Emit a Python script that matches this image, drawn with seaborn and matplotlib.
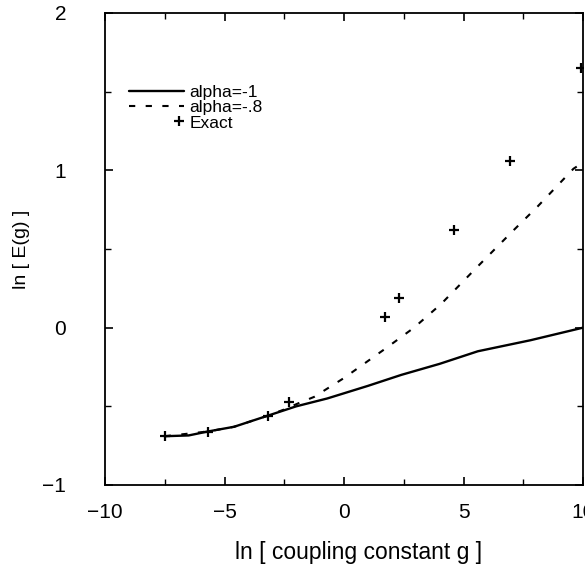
import matplotlib

matplotlib.use("Agg")
import matplotlib.pyplot as plt
import pandas as pd
import seaborn as sns
from matplotlib.legend_handler import HandlerLine2D
from matplotlib.lines import Line2D
from matplotlib.ticker import MultipleLocator

# values
solid_x = [-7.5, -6.5, -5.7, -4.6, -3.2, -2.0, -0.7, 1.0, 2.4, 4.0, 5.6, 7.8, 10.0]
solid_y = [-0.69, -0.685, -0.66, -0.63, -0.56, -0.50, -0.45, -0.37, -0.30, -0.23, -0.15, -0.08, 0.0]

dashed_x = [-7.5, -5.7, -4.6, -3.2, -2.5, -1.9, -1.25, 0.0, 1.76, 2.93, 4.06, 5.6, 7.1, 8.1, 9.1, 9.6, 10.0]
dashed_y = [-0.69, -0.66, -0.63, -0.56, -0.52, -0.48, -0.44, -0.32, -0.13, 0.0, 0.15, 0.39, 0.62, 0.77, 0.93, 1.01, 1.05]

exact_x = [-7.5, -5.7, -3.2, -2.3, 1.7, 2.3, 4.6, 6.95, 9.9]
exact_y = [-0.69, -0.66, -0.56, -0.47, 0.07, 0.19, 0.62, 1.06, 1.65]

labels = ["alpha=-1", "alpha=-.8", "Exact"]


class RightMarkerHandler(HandlerLine2D):
    """Put the single legend marker at the right end of the handle."""

    def create_artists(self, legend, orig_handle, xdescent, ydescent, width,
                       height, fontsize, trans):
        artists = super().create_artists(legend, orig_handle, xdescent, ydescent,
                                         width, height, fontsize, trans)
        x = -xdescent + width * 0.9
        for a in artists:
            a.set_xdata([x] * len(a.get_xdata()))
        return artists


sns.set_theme(style="ticks")
plt.rcParams["font.family"] = ["Liberation Sans", "DejaVu Sans"]
plt.rcParams["text.color"] = "black"
plt.rcParams["axes.labelcolor"] = "black"
plt.rcParams["xtick.color"] = "black"
plt.rcParams["ytick.color"] = "black"

fig = plt.figure(figsize=(5.85, 5.69), dpi=100)
ax = fig.add_axes([105 / 585, 1 - 485 / 569, 478 / 585, 472 / 569])

solid = pd.DataFrame({"x": solid_x, "y": solid_y})
dashed = pd.DataFrame({"x": dashed_x, "y": dashed_y})
exact = pd.DataFrame({"x": exact_x, "y": exact_y})

sns.lineplot(data=solid, x="x", y="y", color="black", linewidth=1.7, sort=False, ax=ax)
sns.lineplot(data=dashed, x="x", y="y", color="black", linewidth=1.5, sort=False,
             linestyle=(0, (3, 5)), ax=ax)
sns.scatterplot(data=exact, x="x", y="y", marker="+", s=55, color="black",
                linewidth=1.6, ax=ax)

ax.set_xlim(-10, 10)
ax.set_ylim(-1, 2)
ax.xaxis.set_major_locator(MultipleLocator(5))
ax.xaxis.set_minor_locator(MultipleLocator(2.5))
ax.yaxis.set_major_locator(MultipleLocator(1))
ax.yaxis.set_minor_locator(MultipleLocator(0.5))
ax.tick_params(which="both", direction="in", top=True, right=True, color="black")
ax.tick_params(which="major", length=6, width=1.2)
ax.tick_params(which="minor", length=4, width=1.0)
ax.tick_params(axis="x", which="major", pad=13, labelsize=15)
ax.tick_params(axis="y", which="major", pad=28, labelsize=15)
for s in ax.spines.values():
    s.set_linewidth(1.3)
    s.set_color("black")

ax.set_xlabel("ln [ coupling constant g ]", fontsize=16.5)
ax.xaxis.set_label_coords(0.531, -0.118)
ax.set_ylabel("ln [ E(g) ]", fontsize=14, labelpad=9)

handles = [
    Line2D([], [], color="black", linewidth=1.7),
    Line2D([], [], color="black", linewidth=1.5, linestyle=(0, (3, 5))),
    Line2D([], [], color="black", linestyle="none", marker="+", markersize=7,
           markeredgewidth=1.6),
]
ax.legend(handles, labels, loc="upper left", bbox_to_anchor=(0.035, 0.862),
          frameon=False, fontsize=12.5, handlelength=3.2, handletextpad=0.3,
          labelspacing=0.0, borderaxespad=0,
          handler_map={handles[2]: RightMarkerHandler(numpoints=1)})

fig.savefig("out.png", dpi=100)
